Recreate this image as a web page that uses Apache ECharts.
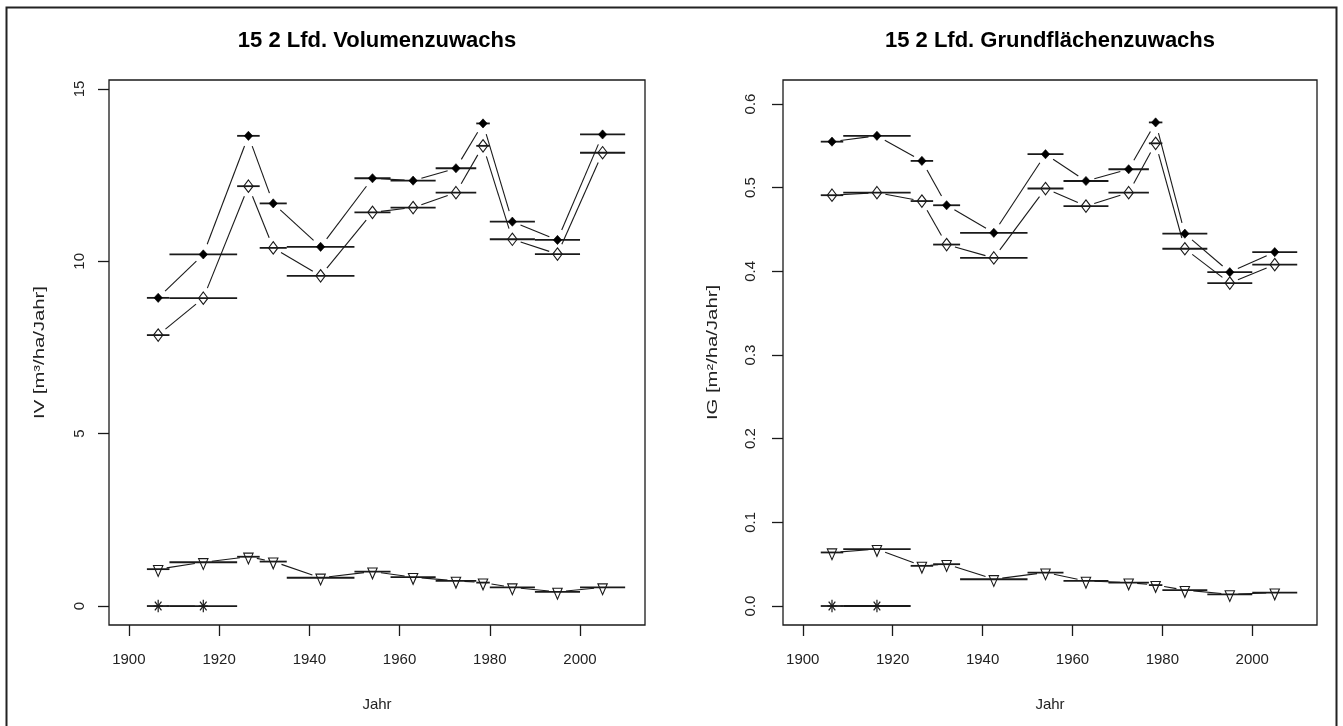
<!DOCTYPE html>
<html><head><meta charset="utf-8">
<script src="https://cdn.jsdelivr.net/npm/echarts@6/dist/echarts.min.js"></script>
<style>html,body{margin:0;padding:0;background:#fff}#c{width:1343px;height:726px}</style>
</head><body><div id="c"></div>
<script>
// ---- data ----
const periodStart = [1904,1909,1924,1929,1935,1950,1958,1968,1977,1980,1990,2000];
const periodEnd   = [1909,1924,1929,1935,1950,1958,1968,1977,1980,1990,2000,2010];
const yearMid     = [1906.5,1916.5,1926.5,1932,1942.5,1954,1963,1972.5,1978.5,1985,1995,2005];

const ivFilled = [8.94,10.20,13.64,11.68,10.42,12.41,12.34,12.70,14.00,11.15,10.62,13.68];
const ivOpen   = [7.86,8.93,12.18,10.39,9.58,11.42,11.56,11.99,13.35,10.64,10.21,13.15];
const ivTri    = [1.07,1.27,1.43,1.29,0.82,1.00,0.84,0.73,0.68,0.54,0.41,0.54];
const ivStar   = [0,0];

const igFilled = [0.555,0.562,0.532,0.479,0.446,0.540,0.508,0.522,0.578,0.445,0.399,0.423];
const igOpen   = [0.491,0.494,0.484,0.432,0.416,0.499,0.478,0.494,0.553,0.427,0.386,0.408];
const igTri    = [0.064,0.068,0.048,0.050,0.032,0.040,0.030,0.028,0.025,0.019,0.014,0.016];
const igStar   = [0,0];

const xTicks  = [1900,1920,1940,1960,1980,2000];
const xTickLabels = ['1900','1920','1940','1960','1980','2000'];
const ivTicks = [0,5,10,15];
const igTicks = [0,0.1,0.2,0.3,0.4,0.5,0.6];
const ivTickLabels = ['0','5','10','15'];
const igTickLabels = ['0.0','0.1','0.2','0.3','0.4','0.5','0.6'];

const titles = ['15 2 Lfd. Volumenzuwachs','15 2 Lfd. Grundflächenzuwachs'];
const yNames = ['IV [m³/ha/Jahr]','IG [m²/ha/Jahr]'];
const xName = 'Jahr';

// ---- styling ----
const FONT = '"Liberation Sans", Arial, Helvetica, sans-serif';
const INK = '#1a1a1a';
const SY = 1.35;   // vertical stretch of the reference picture
const GAP = 8.5;   // gap around points for connecting lines

const chart = echarts.init(document.getElementById('c'), null, {renderer:'canvas'});

function pick(ticks, labels){
  return function(v){ const i = ticks.findIndex(t=>Math.abs(t-v)<1e-9); return i>=0?labels[i]:''; };
}
function xAxisCfg(gi){
  return {type:'value', gridIndex:gi, min:1895.6, max:2014.4,
    axisLine:{show:false, onZero:false}, splitLine:{show:false},
    axisTick:{show:true, inside:false, length:11, customValues:xTicks, lineStyle:{color:INK, width:1.3}},
    axisLabel:{show:true, customValues:xTicks, margin:27, fontFamily:FONT, fontSize:15, color:'#222',
      formatter:pick(xTicks, xTickLabels)},
    name:xName, nameLocation:'middle', nameGap:72,
    nameTextStyle:{fontFamily:FONT, fontSize:15, color:'#222'}};
}
function yAxisCfg(gi, min, max, ticks, labels, margin){
  return {type:'value', gridIndex:gi, min:min, max:max,
    axisLine:{show:false, onZero:false}, splitLine:{show:false},
    axisTick:{show:true, inside:false, length:11, customValues:ticks, lineStyle:{color:INK, width:1.3}},
    axisLabel:{show:true, customValues:ticks, rotate:90, margin:margin, fontFamily:FONT, fontSize:15, color:'#222',
      formatter:pick(ticks, labels)}};
}

function hsegSeries(gi, vals){
  return {type:'custom', xAxisIndex:gi, yAxisIndex:gi, silent:true, z:3,
    data: vals.map((v,k)=>[periodStart[k], periodEnd[k], v]),
    encode:{x:[0,1], y:2},
    renderItem:function(params, api){
      const a = api.coord([api.value(0), api.value(2)]);
      const b = api.coord([api.value(1), api.value(2)]);
      return {type:'line', shape:{x1:a[0], y1:a[1], x2:b[0], y2:b[1]},
        style:{stroke:INK, lineWidth:1.8}};
    }};
}
function conSeries(gi, vals){
  const d = [];
  for (let k=0; k<vals.length-1; k++) d.push([yearMid[k], vals[k], yearMid[k+1], vals[k+1]]);
  return {type:'custom', xAxisIndex:gi, yAxisIndex:gi, silent:true, z:3,
    data:d, encode:{x:[0,2], y:[1,3]},
    renderItem:function(params, api){
      const a = api.coord([api.value(0), api.value(1)]);
      const b = api.coord([api.value(2), api.value(3)]);
      const dx = b[0]-a[0], dy = (b[1]-a[1])/SY;
      const len = Math.hypot(dx, dy);
      if (len <= 2*GAP) return null;
      const ux = dx/len, uy = dy/len;
      return {type:'line', shape:{x1:a[0]+ux*GAP, y1:a[1]+uy*GAP*SY, x2:b[0]-ux*GAP, y2:b[1]-uy*GAP*SY},
        style:{stroke:INK, lineWidth:1.1}};
    }};
}
function symShape(kind, x, y){
  if (kind==='filled') return {type:'polygon', shape:{points:[[x,y-4.6],[x+4.2,y],[x,y+4.6],[x-4.2,y]]}, style:{fill:'#000', stroke:'#000', lineWidth:0.6}};
  if (kind==='open') return {type:'polygon', shape:{points:[[x,y-6.2],[x+4.7,y],[x,y+6.2],[x-4.7,y]]}, style:{fill:'transparent', stroke:INK, lineWidth:1.1}};
  if (kind==='tri') return {type:'polygon', shape:{points:[[x-4.7,y-3.6],[x+4.7,y-3.6],[x,y+7.2]]}, style:{fill:'transparent', stroke:INK, lineWidth:1.1}};
  const st = {stroke:INK, lineWidth:1.2};
  return {type:'group', children:[
    {type:'line', shape:{x1:x-4.6, y1:y, x2:x+4.6, y2:y}, style:st},
    {type:'line', shape:{x1:x, y1:y-6.2, x2:x, y2:y+6.2}, style:st},
    {type:'line', shape:{x1:x-3.3, y1:y-4.4, x2:x+3.3, y2:y+4.4}, style:st},
    {type:'line', shape:{x1:x-3.3, y1:y+4.4, x2:x+3.3, y2:y-4.4}, style:st}
  ]};
}
function symSeries(gi, vals, kind){
  return {type:'custom', xAxisIndex:gi, yAxisIndex:gi, silent:true, z:5,
    data: vals.map((v,k)=>[yearMid[k], v]),
    encode:{x:0, y:1},
    renderItem:function(params, api){
      const p = api.coord([api.value(0), api.value(1)]);
      return symShape(kind, p[0], p[1]);
    }};
}
function plotSeries(gi, filled, open, tri, star){
  return [
    hsegSeries(gi, filled), hsegSeries(gi, open), hsegSeries(gi, tri), hsegSeries(gi, star),
    conSeries(gi, filled), conSeries(gi, open), conSeries(gi, tri), conSeries(gi, star),
    symSeries(gi, filled, 'filled'), symSeries(gi, open, 'open'), symSeries(gi, tri, 'tri'), symSeries(gi, star, 'star')
  ];
}

const grids = [
  {left:109, top:80, width:536, height:545},
  {left:783, top:80, width:534, height:545}
];
const yNameX = [40, 713];

function titleText(i){
  return {type:'text', silent:true, x:grids[i].left+grids[i].width/2, y:41,
    style:{text:titles[i], fontFamily:FONT, fontWeight:'bold', fontSize:22, fill:'#000', align:'center', verticalAlign:'middle'}};
}
function yNameText(i){
  return {type:'text', silent:true, x:yNameX[i], y:grids[i].top+grids[i].height/2, rotation:Math.PI/2, scaleX:SY,
    style:{text:yNames[i], fontFamily:FONT, fontSize:15, fill:'#222', align:'center', verticalAlign:'middle'}};
}

chart.setOption({
  animation:false,
  backgroundColor:'#fff',
  grid: grids.map(g=>Object.assign({show:true, borderColor:INK, borderWidth:1.3, backgroundColor:'transparent', containLabel:false}, g)),
  xAxis:[xAxisCfg(0), xAxisCfg(1)],
  yAxis:[
    yAxisCfg(0, -0.55, 15.26, ivTicks, ivTickLabels, 22),
    yAxisCfg(1, -0.0227, 0.6287, igTicks, igTickLabels, 25)
  ],
  series: plotSeries(0, ivFilled, ivOpen, ivTri, ivStar).concat(plotSeries(1, igFilled, igOpen, igTri, igStar)),
  graphic:[
    {type:'rect', silent:true, shape:{x:6.5, y:7.5, width:1330, height:730}, style:{fill:'transparent', stroke:'#222', lineWidth:2}},
    titleText(0), titleText(1), yNameText(0), yNameText(1)
  ]
});
</script>
</body></html>
